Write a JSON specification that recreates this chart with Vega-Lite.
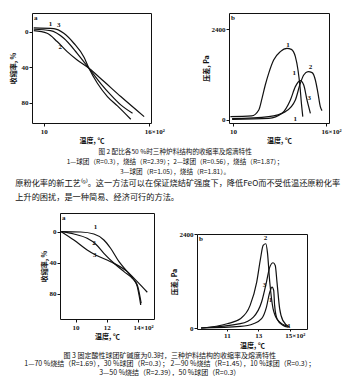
{
  "$schema": "https://vega.github.io/schema/vega-lite/v6.json",
  "background": "white",
  "padding": {"left": 8, "top": 12, "right": 0, "bottom": 0},
  "config": {
    "font": "Noto Sans CJK SC",
    "view": {"stroke": "#111", "strokeWidth": 1},
    "axis": {"domain": false, "grid": false, "tickSize": 3, "tickColor": "#111", "labelFont": "Liberation Serif", "labelFontSize": 7, "labelFontWeight": "bold", "labelColor": "#111", "labelPadding": 1, "titleFont": "Noto Sans CJK SC", "titleFontSize": 7, "titleFontWeight": "bold", "titleColor": "#111", "titlePadding": 2}
  },
  "datasets": {
    "aL": [
      {"c": "1", "x": 9.43, "y": -2.7}, {"c": "1", "x": 10.38, "y": -1.1}, {"c": "1", "x": 11.14, "y": 7.5}, {"c": "1", "x": 11.9, "y": 24.4}, {"c": "1", "x": 12.57, "y": 41.3}, {"c": "1", "x": 13.23, "y": 58.2}, {"c": "1", "x": 13.81, "y": 71.3}, {"c": "1", "x": 14.38, "y": 82.6}, {"c": "1", "x": 15.05, "y": 92},
      {"c": "2", "x": 9.43, "y": -1.1}, {"c": "2", "x": 10.19, "y": 1.9}, {"c": "2", "x": 10.76, "y": 11.2}, {"c": "2", "x": 11.33, "y": 22.5}, {"c": "2", "x": 11.9, "y": 31.9}, {"c": "2", "x": 12.57, "y": 41.3}, {"c": "2", "x": 13.43, "y": 56.3}, {"c": "2", "x": 14.38, "y": 73.2}, {"c": "2", "x": 15.71, "y": 95.8},
      {"c": "3", "x": 9.43, "y": -4.2}, {"c": "3", "x": 10.57, "y": -3.4}, {"c": "3", "x": 11.14, "y": 1.9}, {"c": "3", "x": 11.71, "y": 13.1}, {"c": "3", "x": 12.29, "y": 28.9}, {"c": "3", "x": 12.57, "y": 41.3}, {"c": "3", "x": 13.05, "y": 58.2}, {"c": "3", "x": 13.62, "y": 73.2}, {"c": "3", "x": 14.19, "y": 83.7}, {"c": "3", "x": 14.95, "y": 98.8}
    ],
    "aT": [
      {"t": "1", "x": 10.38, "y": -8.7}, {"t": "3", "x": 10.85, "y": -7.5}, {"t": "2", "x": 10.94, "y": 16.9}
    ],
    "aP": [{"t": "a", "x": 9.33, "y": -21}],
    "bL": [
      {"c": "1", "x": 9.83, "y": 87}, {"c": "1", "x": 11.2, "y": 106}, {"c": "1", "x": 11.66, "y": 264}, {"c": "1", "x": 11.87, "y": 572}, {"c": "1", "x": 12.08, "y": 924}, {"c": "1", "x": 12.3, "y": 1232}, {"c": "1", "x": 12.62, "y": 1584}, {"c": "1", "x": 13.05, "y": 1804}, {"c": "1", "x": 13.48, "y": 1892}, {"c": "1", "x": 13.76, "y": 1865}, {"c": "1", "x": 14.02, "y": 1672}, {"c": "1", "x": 14.19, "y": 1320}, {"c": "1", "x": 14.32, "y": 880}, {"c": "1", "x": 14.41, "y": 440}, {"c": "1", "x": 14.5, "y": 88},
      {"c": "2", "x": 9.94, "y": 35}, {"c": "2", "x": 12.3, "y": 88}, {"c": "2", "x": 13.38, "y": 220}, {"c": "2", "x": 14.02, "y": 528}, {"c": "2", "x": 14.34, "y": 968}, {"c": "2", "x": 14.56, "y": 1188}, {"c": "2", "x": 14.84, "y": 1276}, {"c": "2", "x": 15.1, "y": 1250}, {"c": "2", "x": 15.31, "y": 1056}, {"c": "2", "x": 15.48, "y": 704}, {"c": "2", "x": 15.63, "y": 352}, {"c": "2", "x": 15.74, "y": 246},
      {"c": "3", "x": 9.94, "y": 18}, {"c": "3", "x": 12.3, "y": 44}, {"c": "3", "x": 13.16, "y": 176}, {"c": "3", "x": 13.7, "y": 528}, {"c": "3", "x": 14.02, "y": 880}, {"c": "3", "x": 14.34, "y": 1038}, {"c": "3", "x": 14.56, "y": 924}, {"c": "3", "x": 14.77, "y": 528}, {"c": "3", "x": 14.99, "y": 176}
    ],
    "bT": [
      {"t": "1", "x": 13.55, "y": 1990}, {"t": "2", "x": 15.0, "y": 1410}, {"t": "3", "x": 14.92, "y": 573}, {"t": "1", "x": 13.95, "y": 1230}, {"t": "1", "x": 14.02, "y": 20}
    ],
    "bP": [{"t": "b", "x": 9.74, "y": 2825}],
    "cL": [
      {"c": "1", "x": 9.08, "y": -0.4}, {"c": "1", "x": 10.32, "y": 0}, {"c": "1", "x": 11.17, "y": 2.6}, {"c": "1", "x": 11.81, "y": 10.3}, {"c": "1", "x": 12.24, "y": 21}, {"c": "1", "x": 12.78, "y": 38.3}, {"c": "1", "x": 13.31, "y": 51.2}, {"c": "1", "x": 13.74, "y": 62}, {"c": "1", "x": 13.95, "y": 70.5}, {"c": "1", "x": 14.06, "y": 81.3}, {"c": "1", "x": 14.17, "y": 94.2},
      {"c": "2", "x": 9.08, "y": -0.4}, {"c": "2", "x": 9.89, "y": 2.6}, {"c": "2", "x": 10.74, "y": 8.2}, {"c": "2", "x": 11.28, "y": 15.5}, {"c": "2", "x": 11.81, "y": 27.5}, {"c": "2", "x": 12.46, "y": 40.4}, {"c": "2", "x": 13.1, "y": 51.2}, {"c": "2", "x": 13.63, "y": 59.8}, {"c": "2", "x": 13.95, "y": 68.4}, {"c": "2", "x": 14.1, "y": 81}, {"c": "2", "x": 14.2, "y": 92},
      {"c": "3", "x": 9.08, "y": -0.4}, {"c": "3", "x": 9.89, "y": 10.3}, {"c": "3", "x": 10.74, "y": 23.2}, {"c": "3", "x": 11.28, "y": 29.7}, {"c": "3", "x": 12.24, "y": 38.3}, {"c": "3", "x": 13.31, "y": 51.2}, {"c": "3", "x": 13.95, "y": 64.1}, {"c": "3", "x": 14.59, "y": 77.8}
    ],
    "cT": [
      {"t": "1", "x": 11.28, "y": -6}, {"t": "2", "x": 11.17, "y": 14.6}, {"t": "3", "x": 11.22, "y": 29.7}
    ],
    "cP": [{"t": "a", "x": 9.0, "y": -24.5}],
    "dL": [
      {"c": "2", "x": 9.36, "y": 0}, {"c": "2", "x": 11.02, "y": 110}, {"c": "2", "x": 11.86, "y": 238}, {"c": "2", "x": 12.48, "y": 578}, {"c": "2", "x": 12.9, "y": 1173}, {"c": "2", "x": 13.14, "y": 1768}, {"c": "2", "x": 13.31, "y": 2108}, {"c": "2", "x": 13.48, "y": 2151}, {"c": "2", "x": 13.58, "y": 1938}, {"c": "2", "x": 13.73, "y": 1173}, {"c": "2", "x": 13.94, "y": 493}, {"c": "2", "x": 14.25, "y": 195}, {"c": "2", "x": 14.88, "y": 42},
      {"c": "3", "x": 9.36, "y": 0}, {"c": "3", "x": 11.86, "y": 110}, {"c": "3", "x": 12.69, "y": 280}, {"c": "3", "x": 13.21, "y": 663}, {"c": "3", "x": 13.52, "y": 1173}, {"c": "3", "x": 13.73, "y": 1555}, {"c": "3", "x": 13.94, "y": 1666}, {"c": "3", "x": 14.08, "y": 1598}, {"c": "3", "x": 14.19, "y": 1173}, {"c": "3", "x": 14.36, "y": 493}, {"c": "3", "x": 14.56, "y": 195}, {"c": "3", "x": 14.98, "y": 25},
      {"c": "1", "x": 9.36, "y": 0}, {"c": "1", "x": 11.86, "y": 42}, {"c": "1", "x": 12.69, "y": 110}, {"c": "1", "x": 13.21, "y": 238}, {"c": "1", "x": 13.52, "y": 535}, {"c": "1", "x": 13.73, "y": 918}, {"c": "1", "x": 13.88, "y": 1046}, {"c": "1", "x": 13.98, "y": 960}, {"c": "1", "x": 14.04, "y": 578}, {"c": "1", "x": 14.19, "y": 238}, {"c": "1", "x": 14.56, "y": 68}, {"c": "1", "x": 14.9, "y": 20}
    ],
    "dT": [
      {"t": "2", "x": 13.46, "y": 2300}, {"t": "3", "x": 13.4, "y": 1088}, {"t": "1", "x": 13.78, "y": 706}, {"t": "1", "x": 14.95, "y": 40}
    ],
    "dP": [{"t": "b", "x": 9.1, "y": 2400}]
  },
  "spacing": 3,
  "vconcat": [
    {
      "title": {"text": ["图 2  配比各50 %时三种炉料结构的收缩率及熔滴特性", "1—球团（R=0.3），烧结（R=2.39）；2—球团（R=0.56），烧结（R=1.87）；", "3—球团（R=1.05），烧结（R=1.81）。"], "orient": "bottom", "anchor": "middle", "font": "Noto Sans CJK SC", "fontSize": 6.6, "fontWeight": "normal", "color": "#111", "lineHeight": 10, "offset": 5},
      "spacing": 36,
      "hconcat": [
        {
          "width": 119, "height": 110,
          "layer": [
            {"data": {"name": "aL"}, "mark": {"type": "line", "interpolate": "monotone", "color": "#111", "strokeWidth": 1.2},
             "encoding": {
               "x": {"field": "x", "type": "quantitative", "scale": {"domain": [9.33, 16.1], "nice": false, "zero": false},
                     "axis": {"title": "温度, ℃", "values": [10, 12, 14, 16], "labelExpr": "datum.value == 16 ? '16×10²' : format(datum.value, 'd')", "labelAlign": {"condition": {"test": "datum.value == 16", "value": "left"}, "value": "center"}, "labelOffset": {"condition": {"test": "datum.value == 16", "value": -5}, "value": 0}}},
               "y": {"field": "y", "type": "quantitative", "scale": {"domain": [-21, 103], "reverse": true, "nice": false, "zero": false},
                     "axis": {"title": "收缩率, %", "titlePadding": 5, "values": [0, 20, 40, 60, 80], "labelExpr": "datum.value % 40 == 0 ? format(datum.value, 'd') : ''"}},
               "detail": {"field": "c"}
             }},
            {"data": {"name": "aT"}, "mark": {"type": "text", "font": "Liberation Serif", "fontSize": 7, "fontWeight": "bold", "color": "#111"},
             "encoding": {"x": {"field": "x", "type": "quantitative"}, "y": {"field": "y", "type": "quantitative"}, "text": {"field": "t"}}},
            {"data": {"name": "aP"}, "mark": {"type": "text", "font": "Liberation Serif", "fontSize": 7, "fontWeight": "bold", "color": "#111", "align": "left", "baseline": "top", "dx": 2, "dy": 1},
             "encoding": {"x": {"field": "x", "type": "quantitative"}, "y": {"field": "y", "type": "quantitative"}, "text": {"field": "t"}}}
          ]
        },
        {
          "width": 100, "height": 110,
          "layer": [
            {"data": {"name": "bL"}, "mark": {"type": "line", "interpolate": "monotone", "color": "#111", "strokeWidth": 1.2},
             "encoding": {
               "x": {"field": "x", "type": "quantitative", "scale": {"domain": [9.74, 16.19], "nice": false, "zero": false},
                     "axis": {"title": "温度, ℃", "values": [10, 12, 14, 16], "labelExpr": "datum.value == 16 ? '16×10²' : format(datum.value, 'd')", "labelAlign": {"condition": {"test": "datum.value == 16", "value": "left"}, "value": "center"}, "labelOffset": {"condition": {"test": "datum.value == 16", "value": -5}, "value": 0}}},
               "y": {"field": "y", "type": "quantitative", "scale": {"domain": [-80, 2825], "nice": false, "zero": false},
                     "axis": {"title": "压差, Pa", "values": [0, 800, 1600, 2400], "format": "d"}},
               "detail": {"field": "c"}
             }},
            {"data": {"name": "bT"}, "mark": {"type": "text", "font": "Liberation Serif", "fontSize": 7, "fontWeight": "bold", "color": "#111"},
             "encoding": {"x": {"field": "x", "type": "quantitative"}, "y": {"field": "y", "type": "quantitative"}, "text": {"field": "t"}}},
            {"data": {"name": "bP"}, "mark": {"type": "text", "font": "Liberation Serif", "fontSize": 7, "fontWeight": "bold", "color": "#111", "align": "left", "baseline": "top", "dx": 2, "dy": 1},
             "encoding": {"x": {"field": "x", "type": "quantitative"}, "y": {"field": "y", "type": "quantitative"}, "text": {"field": "t"}}}
          ]
        }
      ]
    },
    {
      "title": {"text": ["原粉化率的新工艺⁽⁹⁾。这一方法可以在保证烧结矿强度下，降低FeO而不受低温还原粉化率", "上升的困扰，是一种简易、经济可行的方法。"], "orient": "top", "anchor": "start", "font": "Noto Sans CJK SC", "fontSize": 8.2, "fontWeight": "normal", "color": "#111", "lineHeight": 14, "offset": 10},
      "vconcat": [
        {
          "title": {"text": ["图 3  固定酸性球团矿碱度为0.3时，三种炉料结构的收缩率及熔滴特性", "1—70 %烧结（R=1.69），30 %球团（R=0.3）；        2—90 %烧结（R=1.45），10 %球团（R=0.3）；", "3—50 %烧结（R=2.39），50 %球团（R=0.3）"], "orient": "bottom", "anchor": "middle", "font": "Noto Sans CJK SC", "fontSize": 7, "fontWeight": "normal", "color": "#111", "lineHeight": 8.6, "offset": 3},
          "spacing": 14,
          "hconcat": [
            {
              "spacing": 6,
              "hconcat": [
                {"width": 1, "height": 1, "data": {"values": [{"k": 1}]}, "mark": {"type": "point", "opacity": 0, "size": 1}, "view": {"stroke": null}},
                {
                  "width": 94, "height": 106,
                  "layer": [
                    {"data": {"name": "cL"}, "mark": {"type": "line", "interpolate": "monotone", "color": "#111", "strokeWidth": 1.2},
                     "encoding": {
                       "x": {"field": "x", "type": "quantitative", "scale": {"domain": [9.0, 15.02], "nice": false, "zero": false},
                             "axis": {"title": "温度, ℃", "values": [10, 12, 14], "labelExpr": "datum.value == 14 ? '14×10²' : format(datum.value, 'd')", "labelAlign": {"condition": {"test": "datum.value == 14", "value": "left"}, "value": "center"}, "labelOffset": {"condition": {"test": "datum.value == 14", "value": -5}, "value": 0}}},
                       "y": {"field": "y", "type": "quantitative", "scale": {"domain": [-24.5, 112.3], "reverse": true, "nice": false, "zero": false},
                             "axis": {"title": "收缩率, %", "values": [0, 20, 40, 60, 80, 100], "format": "d"}},
                       "detail": {"field": "c"}
                     }},
                    {"data": {"name": "cT"}, "mark": {"type": "text", "font": "Liberation Serif", "fontSize": 7, "fontWeight": "bold", "color": "#111"},
                     "encoding": {"x": {"field": "x", "type": "quantitative"}, "y": {"field": "y", "type": "quantitative"}, "text": {"field": "t"}}},
                    {"data": {"name": "cP"}, "mark": {"type": "text", "font": "Liberation Serif", "fontSize": 7, "fontWeight": "bold", "color": "#111", "align": "left", "baseline": "top", "dx": 2, "dy": 1},
                     "encoding": {"x": {"field": "x", "type": "quantitative"}, "y": {"field": "y", "type": "quantitative"}, "text": {"field": "t"}}}
                  ]
                }
              ]
            },
            {
              "spacing": 0,
              "vconcat": [
                {"width": 1, "height": 16, "data": {"values": [{"k": 1}]}, "mark": {"type": "point", "opacity": 0, "size": 1}, "view": {"stroke": null}},
                {
                  "width": 110, "height": 95,
                  "layer": [
                    {"data": {"name": "dL"}, "mark": {"type": "line", "interpolate": "monotone", "color": "#111", "strokeWidth": 1.2},
                     "encoding": {
                       "x": {"field": "x", "type": "quantitative", "scale": {"domain": [9.1, 16.1], "nice": false, "zero": false},
                             "axis": {"title": "温度, ℃", "tickSize": 2, "labelPadding": 0, "titlePadding": 3, "values": [11, 13, 15], "labelExpr": "datum.value == 15 ? '15×10²' : format(datum.value, 'd')", "labelAlign": {"condition": {"test": "datum.value == 15", "value": "left"}, "value": "center"}, "labelOffset": {"condition": {"test": "datum.value == 15", "value": -5}, "value": 0}}},
                       "y": {"field": "y", "type": "quantitative", "scale": {"domain": [-25, 2400], "nice": false, "zero": false},
                             "axis": {"title": "压差, Pa", "values": [0, 800, 1600, 2400], "format": "d"}},
                       "detail": {"field": "c"}
                     }},
                    {"data": {"name": "dT"}, "mark": {"type": "text", "font": "Liberation Serif", "fontSize": 7, "fontWeight": "bold", "color": "#111"},
                     "encoding": {"x": {"field": "x", "type": "quantitative"}, "y": {"field": "y", "type": "quantitative"}, "text": {"field": "t"}}},
                    {"data": {"name": "dP"}, "mark": {"type": "text", "font": "Liberation Serif", "fontSize": 7, "fontWeight": "bold", "color": "#111", "align": "left", "baseline": "top", "dx": 2, "dy": 1},
                     "encoding": {"x": {"field": "x", "type": "quantitative"}, "y": {"field": "y", "type": "quantitative"}, "text": {"field": "t"}}}
                  ]
                }
              ]
            }
          ]
        }
      ]
    }
  ]
}
